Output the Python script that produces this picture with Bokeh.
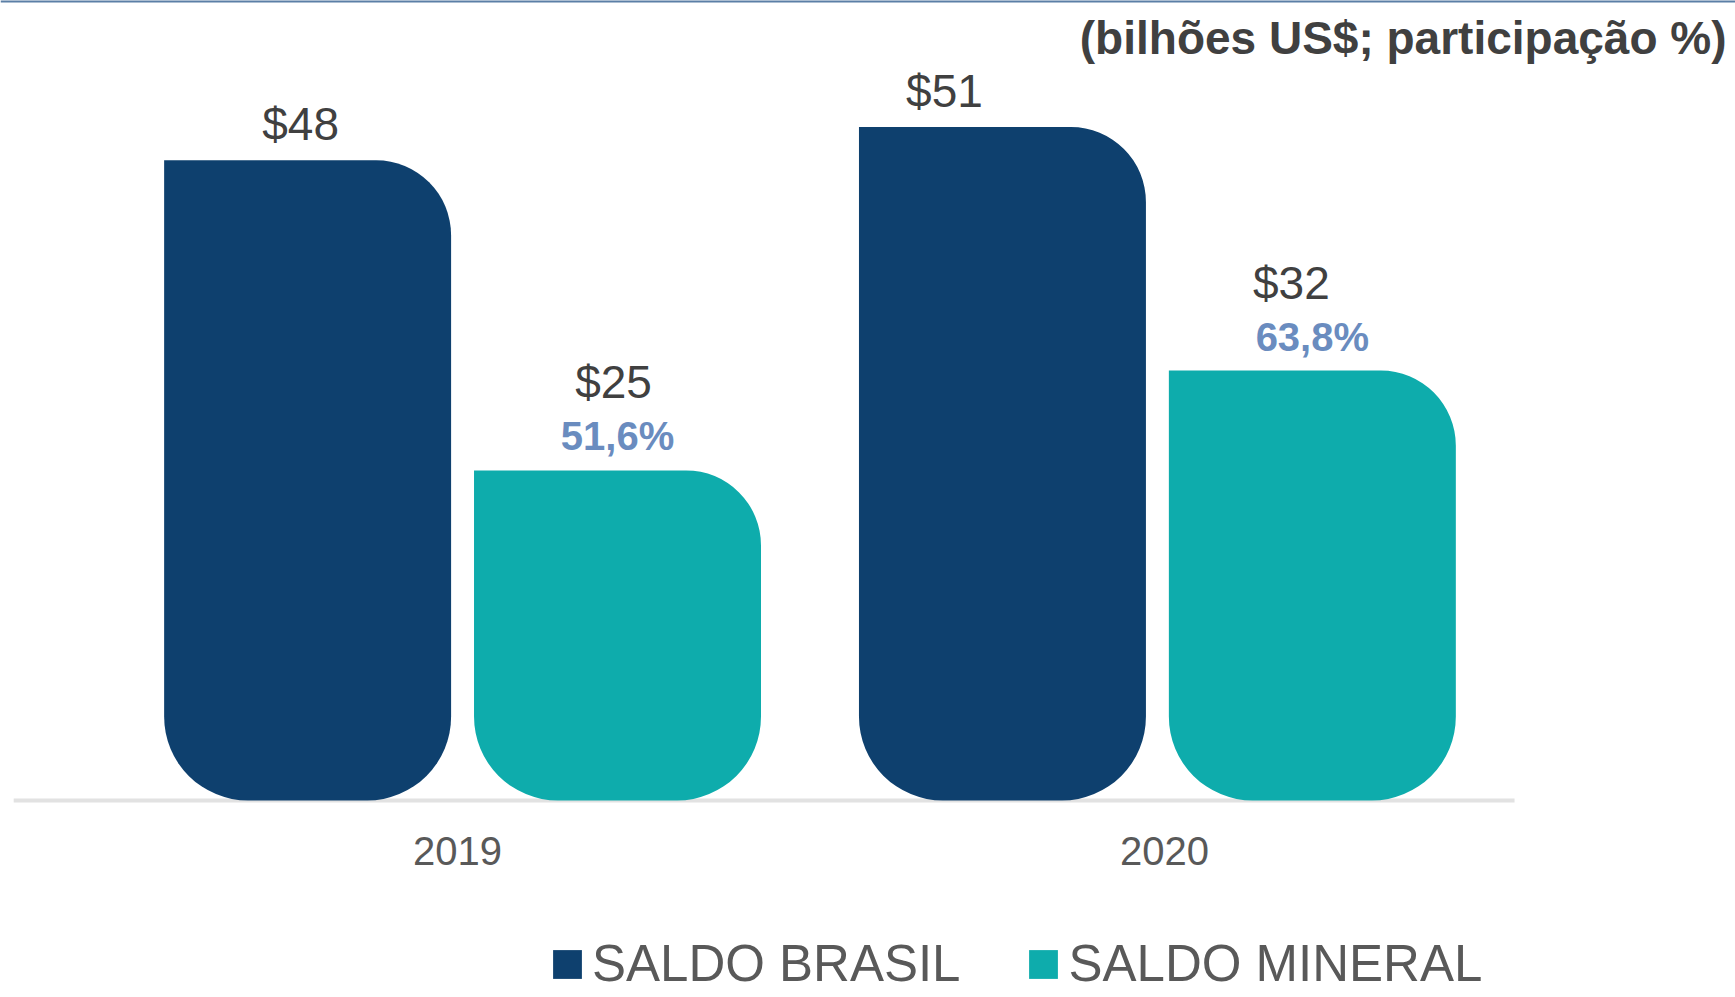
from bokeh.plotting import figure
from bokeh.models import (ColumnDataSource, Range1d, LabelSet, Label,
                          Legend, LegendItem, Span)
from bokeh.embed import file_html
from bokeh.resources import INLINE
from bokeh.core.properties import value
import numpy as np

# ---------------- data ----------------
categories = ["2019", "2020"]
series_names = ["SALDO BRASIL", "SALDO MINERAL"]
saldo_brasil = [48.1, 50.6]
saldo_mineral = [24.8, 32.3]
share_mineral = [51.6, 63.8]
title_text = "(bilhões US$; participação %)"

# ---------------- styles ----------------
C_BRASIL = "#0e406e"
C_MINERAL = "#0eacac"
C_TEXT = "#404040"
C_GRAY = "#595959"
C_PCT = "#6a8cbf"
FONT = "Liberation Sans"

idx = np.arange(len(categories))
offset = 0.223
bar_w = 0.413
baseline_extent = (-0.646, 1.514)
# small horizontal nudges (pixels) of value / category labels, as in the original layout
nudge_brasil = [-7, -58]
nudge_mineral = [-4, -21]
nudge_cat = [-5, 7]

src_b = ColumnDataSource(dict(
    x=idx - offset, top=saldo_brasil,
    lab=[f"${v:.0f}" for v in saldo_brasil], dx=nudge_brasil))
src_m = ColumnDataSource(dict(
    x=idx + offset, top=saldo_mineral,
    lab=[f"${v:.0f}" for v in saldo_mineral], dx=nudge_mineral,
    pct=[f"{s:.1f}%".replace(".", ",") for s in share_mineral]))
src_c = ColumnDataSource(dict(x=idx, y=np.zeros(len(idx)), lab=categories,
                              dx=nudge_cat))

px_per_unit = 13.31
y_end = 800 / px_per_unit
y_start = -197 / px_per_unit
p = figure(frame_width=1735, frame_height=997,
           x_range=Range1d(-0.665, 1.832), y_range=Range1d(y_start, y_end),
           output_backend="svg", toolbar_location=None,
           x_axis_location=None, y_axis_location=None,
           min_border=0)
p.xgrid.visible = False
p.ygrid.visible = False
p.outline_line_color = None
p.background_fill_color = "white"
p.border_fill_color = "white"

# baseline (category axis line)
p.segment(x0=[baseline_extent[0]], x1=[baseline_extent[1]], y0=[0], y1=[0],
          line_color="#e2e2e2", line_width=4)

radius = (0, 75, 84, 84)
r_b = p.vbar(x="x", top="top", bottom=0, width=bar_w, source=src_b,
             fill_color=C_BRASIL, line_color=None, border_radius=radius)
r_m = p.vbar(x="x", top="top", bottom=0, width=bar_w, source=src_m,
             fill_color=C_MINERAL, line_color=None, border_radius=radius)

# category labels
p.add_layout(LabelSet(x="x", y="y", text="lab", source=src_c, x_offset="dx",
                      text_align="center", text_baseline="middle", y_offset=-50,
                      text_font_size="40px", text_color=C_GRAY,
                      text_font=value(FONT)))

p.add_layout(LabelSet(x="x", y="top", text="lab", source=src_b, x_offset="dx",
                      text_align="center", text_baseline="middle", y_offset=36,
                      text_font_size="46px", text_color=C_TEXT,
                      text_font=value(FONT)))
p.add_layout(LabelSet(x="x", y="top", text="lab", source=src_m, x_offset="dx",
                      text_align="center", text_baseline="middle", y_offset=88,
                      text_font_size="46px", text_color=C_TEXT,
                      text_font=value(FONT)))
p.add_layout(LabelSet(x="x", y="top", text="pct", source=src_m,
                      text_align="center", text_baseline="middle", y_offset=34,
                      text_font_size="40px", text_font_style="bold",
                      text_color=C_PCT, text_font=value(FONT)))

p.add_layout(Label(x=1726, y=960, x_units="screen", y_units="screen",
                   text=title_text, text_align="right", text_baseline="middle",
                   text_font_size="46px", text_font_style="bold",
                   text_color=C_TEXT, text_font=FONT))

p.add_layout(Span(location=y_end, dimension="width", line_color="#5b7fa6",
                  line_width=4))

legend = Legend(items=[LegendItem(label=series_names[0], renderers=[r_b]),
                       LegendItem(label=series_names[1], renderers=[r_m])],
                orientation="horizontal", location=(549, 4),
                glyph_width=36, glyph_height=36, label_standoff=7,
                spacing=65, padding=0, margin=0,
                label_text_font_size="51px", label_text_color=C_GRAY,
                label_text_font=FONT,
                border_line_color=None, background_fill_alpha=0)
p.add_layout(legend, "center")

open("out.html", "w").write(file_html(p, INLINE))
